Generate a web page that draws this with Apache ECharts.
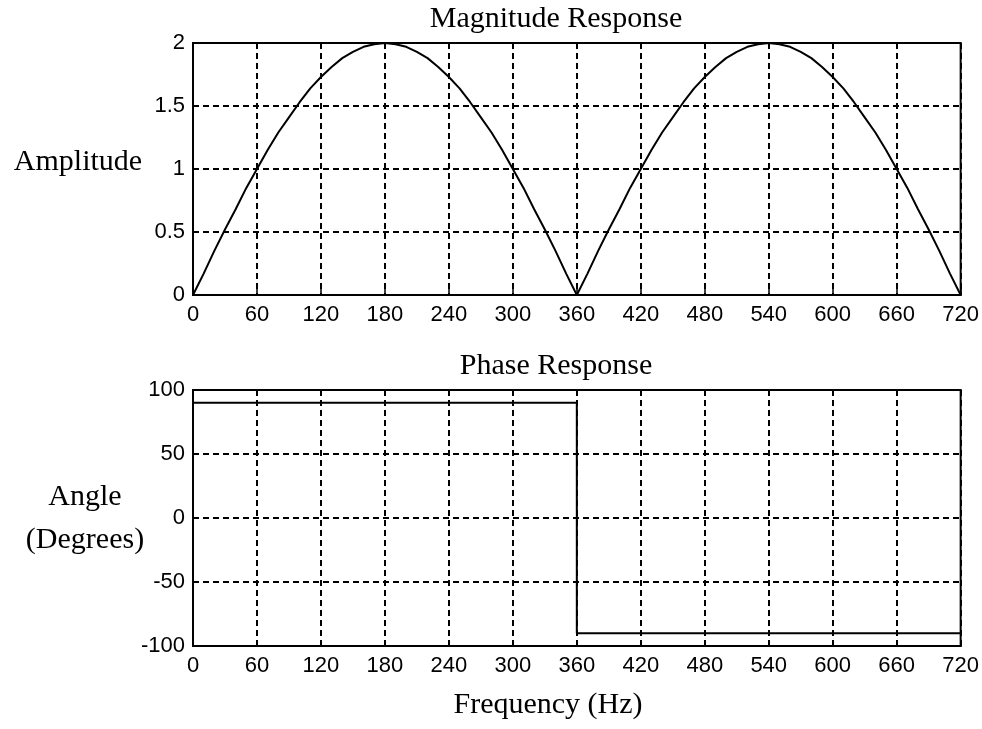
<!DOCTYPE html>
<html>
<head>
<meta charset="utf-8">
<script src="https://cdn.jsdelivr.net/npm/echarts@6/dist/echarts.min.js"></script>
<style>
  html, body { margin: 0; padding: 0; background: #fff; }
  #chart { width: 982px; height: 729px; }
</style>
</head>
<body>
<div id="chart"></div>
<script>
// frequency samples (Hz), every 10 Hz
const freqs = [
  0, 10, 20, 30, 40, 50, 60, 70, 80, 90, 100, 110, 120, 130, 140, 150, 160, 170, 180,
  190, 200, 210, 220, 230, 240, 250, 260, 270, 280, 290, 300, 310, 320, 330, 340, 350, 360,
  370, 380, 390, 400, 410, 420, 430, 440, 450, 460, 470, 480, 490, 500, 510, 520, 530, 540,
  550, 560, 570, 580, 590, 600, 610, 620, 630, 640, 650, 660, 670, 680, 690, 700, 710, 720
];
const magnitude = [
  0, 0.17, 0.35, 0.52, 0.68, 0.85, 1.0, 1.15, 1.29, 1.41, 1.53, 1.64, 1.73, 1.81, 1.88, 1.93, 1.97, 1.99, 2.0,
  1.99, 1.97, 1.93, 1.88, 1.81, 1.73, 1.64, 1.53, 1.41, 1.29, 1.15, 1.0, 0.85, 0.68, 0.52, 0.35, 0.17, 0,
  0.17, 0.35, 0.52, 0.68, 0.85, 1.0, 1.15, 1.29, 1.41, 1.53, 1.64, 1.73, 1.81, 1.88, 1.93, 1.97, 1.99, 2.0,
  1.99, 1.97, 1.93, 1.88, 1.81, 1.73, 1.64, 1.53, 1.41, 1.29, 1.15, 1.0, 0.85, 0.68, 0.52, 0.35, 0.17, 0
];
// phase: step from +90 to -90 at 360 Hz
const phaseFreqs = [0, 360, 360, 720];
const phase = [90, 90, -90, -90];

const serif = '"Liberation Serif", "Times New Roman", serif';
const sans = '"Liberation Sans", Arial, sans-serif';

const chart = echarts.init(document.getElementById('chart'), null, { renderer: 'canvas' });

const gridLine = { show: true, lineStyle: { color: '#000', type: [6, 4], width: 2 } };

function xAxisFor(gridIndex) {
  return {
    type: 'value', gridIndex, min: 0, max: 720, interval: 60,
    axisLine: { show: true, onZero: false, lineStyle: { color: '#000', width: 2 } },
    axisTick: { show: true, inside: true, length: 6, lineStyle: { color: '#000', width: 1.5 } },
    axisLabel: { color: '#000', fontFamily: sans, fontSize: 22, margin: 9 },
    splitLine: gridLine
  };
}

function yAxisFor(gridIndex, min, max, interval) {
  return {
    type: 'value', gridIndex, min, max, interval,
    axisLine: { show: true, onZero: false, lineStyle: { color: '#000', width: 2 } },
    axisTick: { show: true, inside: true, length: 6, lineStyle: { color: '#000', width: 1.5 } },
    axisLabel: { color: '#000', fontFamily: sans, fontSize: 22, margin: 8 },
    splitLine: gridLine
  };
}

function label(text, x, y) {
  return {
    type: 'text', x, y, z: 100,
    style: { text, font: '30px ' + serif, fill: '#000', textAlign: 'center', textVerticalAlign: 'middle', align: 'center', verticalAlign: 'middle' }
  };
}

const option = {
  backgroundColor: '#fff',
  animation: false,
  grid: [
    { left: 193, right: 20, top: 43, height: 252, show: true, borderColor: '#000', borderWidth: 2, backgroundColor: 'transparent' },
    { left: 193, right: 20, top: 390, height: 256, show: true, borderColor: '#000', borderWidth: 2, backgroundColor: 'transparent' }
  ],
  xAxis: [xAxisFor(0), xAxisFor(1)],
  yAxis: [yAxisFor(0, 0, 2, 0.5), yAxisFor(1, -100, 100, 50)],
  series: [
    {
      type: 'line', xAxisIndex: 0, yAxisIndex: 0, showSymbol: false,
      lineStyle: { color: '#000', width: 2 },
      data: freqs.map((f, i) => [f, magnitude[i]])
    },
    {
      type: 'line', xAxisIndex: 1, yAxisIndex: 1, showSymbol: false,
      lineStyle: { color: '#000', width: 2 },
      data: phaseFreqs.map((f, i) => [f, phase[i]])
    }
  ],
  graphic: [
    label('Magnitude Response', 556, 19),
    label('Phase Response', 556, 366),
    label('Amplitude', 78, 162),
    label('Angle', 85, 497),
    label('(Degrees)', 85, 540),
    label('Frequency (Hz)', 548, 705)
  ]
};

chart.setOption(option);
</script>
</body>
</html>
